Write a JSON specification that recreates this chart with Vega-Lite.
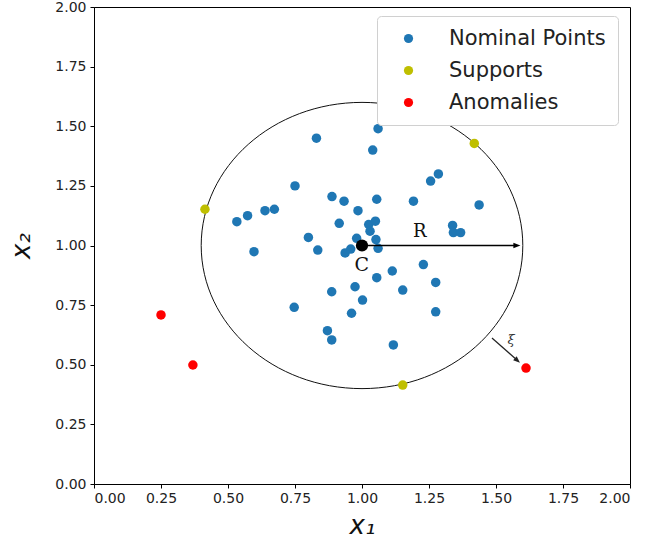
{
  "$schema": "https://vega.github.io/schema/vega-lite/v6.json",
  "width": 536,
  "height": 477,
  "autosize": {"type": "none"},
  "padding": {"left": 94, "top": 7, "right": 16, "bottom": 66},
  "config": {
    "font": "DejaVu Sans",
    "view": {"stroke": "#000", "strokeWidth": 1},
    "axis": {
      "grid": false,
      "domainColor": "#000",
      "tickColor": "#000",
      "tickSize": 4,
      "labelFontSize": 14,
      "labelColor": "#222",
      "titleFontWeight": "normal",
      "titleFontStyle": "italic",
      "titleFontSize": 26,
      "titleColor": "#111"
    },
    "legend": {
      "labelFontSize": 21,
      "labelColor": "#222",
      "symbolSize": 85,
      "strokeColor": "#d0d0d0",
      "fillColor": "#fff",
      "cornerRadius": 4,
      "padding": 12,
      "rowPadding": 10,
      "symbolOffset": 9,
      "labelOffset": 30,
      "symbolStrokeWidth": 0
    }
  },
  "datasets": {
    "pts": [
      {"x1": 0.83, "x2": 1.45, "type": "Nominal Points"},
      {"x1": 1.06, "x2": 1.49, "type": "Nominal Points"},
      {"x1": 1.04, "x2": 1.40, "type": "Nominal Points"},
      {"x1": 0.75, "x2": 1.25, "type": "Nominal Points"},
      {"x1": 1.285, "x2": 1.30, "type": "Nominal Points"},
      {"x1": 1.256, "x2": 1.27, "type": "Nominal Points"},
      {"x1": 1.437, "x2": 1.17, "type": "Nominal Points"},
      {"x1": 0.888, "x2": 1.205, "type": "Nominal Points"},
      {"x1": 0.933, "x2": 1.186, "type": "Nominal Points"},
      {"x1": 1.055, "x2": 1.194, "type": "Nominal Points"},
      {"x1": 1.192, "x2": 1.186, "type": "Nominal Points"},
      {"x1": 0.985, "x2": 1.146, "type": "Nominal Points"},
      {"x1": 0.573, "x2": 1.125, "type": "Nominal Points"},
      {"x1": 0.533, "x2": 1.10, "type": "Nominal Points"},
      {"x1": 0.638, "x2": 1.146, "type": "Nominal Points"},
      {"x1": 0.673, "x2": 1.152, "type": "Nominal Points"},
      {"x1": 0.915, "x2": 1.093, "type": "Nominal Points"},
      {"x1": 1.025, "x2": 1.088, "type": "Nominal Points"},
      {"x1": 1.05, "x2": 1.102, "type": "Nominal Points"},
      {"x1": 1.03, "x2": 1.06, "type": "Nominal Points"},
      {"x1": 1.338, "x2": 1.084, "type": "Nominal Points"},
      {"x1": 1.341, "x2": 1.054, "type": "Nominal Points"},
      {"x1": 1.368, "x2": 1.054, "type": "Nominal Points"},
      {"x1": 0.80, "x2": 1.034, "type": "Nominal Points"},
      {"x1": 0.98, "x2": 1.03, "type": "Nominal Points"},
      {"x1": 1.052, "x2": 1.025, "type": "Nominal Points"},
      {"x1": 0.835, "x2": 0.981, "type": "Nominal Points"},
      {"x1": 0.597, "x2": 0.974, "type": "Nominal Points"},
      {"x1": 0.937, "x2": 0.969, "type": "Nominal Points"},
      {"x1": 0.958, "x2": 0.985, "type": "Nominal Points"},
      {"x1": 1.06, "x2": 0.988, "type": "Nominal Points"},
      {"x1": 1.229, "x2": 0.92, "type": "Nominal Points"},
      {"x1": 1.113, "x2": 0.893, "type": "Nominal Points"},
      {"x1": 1.055, "x2": 0.865, "type": "Nominal Points"},
      {"x1": 1.275, "x2": 0.845, "type": "Nominal Points"},
      {"x1": 0.974, "x2": 0.827, "type": "Nominal Points"},
      {"x1": 0.887, "x2": 0.806, "type": "Nominal Points"},
      {"x1": 1.152, "x2": 0.813, "type": "Nominal Points"},
      {"x1": 1.002, "x2": 0.771, "type": "Nominal Points"},
      {"x1": 0.747, "x2": 0.741, "type": "Nominal Points"},
      {"x1": 0.961, "x2": 0.716, "type": "Nominal Points"},
      {"x1": 1.275, "x2": 0.722, "type": "Nominal Points"},
      {"x1": 0.871, "x2": 0.643, "type": "Nominal Points"},
      {"x1": 0.887, "x2": 0.604, "type": "Nominal Points"},
      {"x1": 1.117, "x2": 0.583, "type": "Nominal Points"},
      {"x1": 0.414, "x2": 1.152, "type": "Supports"},
      {"x1": 1.419, "x2": 1.428, "type": "Supports"},
      {"x1": 1.152, "x2": 0.415, "type": "Supports"},
      {"x1": 0.25, "x2": 0.709, "type": "Anomalies"},
      {"x1": 0.369, "x2": 0.499, "type": "Anomalies"},
      {"x1": 1.612, "x2": 0.486, "type": "Anomalies"}
    ],
    "center": [{"x1": 1.0, "x2": 1.0, "r": 0.6}],
    "rArrow": [{"x1": 1.0, "xe": 1.575, "x2": 1.0}],
    "rHead": [{"x1": 1.578, "x2": 1.0}],
    "xiArrow": [{"xa": 1.485, "ya": 0.612, "xb": 1.575, "yb": 0.523}],
    "xiHead": [{"x1": 1.58, "x2": 0.518}],
    "labels": [
      {"x1": 1.216, "x2": 1.058, "t": "R", "fs": 18},
      {"x1": 0.999, "x2": 0.918, "t": "C", "fs": 19}
    ],
    "xiLabel": [{"x1": 1.556, "x2": 0.604, "t": "ξ"}]
  },
  "layer": [
    {
      "data": {"name": "center"},
      "mark": {
        "type": "point",
        "shape": "M-1,0A1,0.89 0 1,0 1,0A1,0.89 0 1,0 -1,0Z",
        "size": 103426,
        "filled": false,
        "stroke": "#111",
        "strokeWidth": 1,
        "opacity": 1
      },
      "encoding": {
        "x": {"field": "x1", "type": "quantitative", "scale": {"domain": [0, 2], "nice": false, "zero": false},
          "axis": {"values": [0, 0.25, 0.5, 0.75, 1, 1.25, 1.5, 1.75, 2], "format": ".2f", "title": "x₁", "labelPadding": 3, "titlePadding": 7}},
        "y": {"field": "x2", "type": "quantitative", "scale": {"domain": [0, 2], "nice": false, "zero": false},
          "axis": {"values": [0, 0.25, 0.5, 0.75, 1, 1.25, 1.5, 1.75, 2], "format": ".2f", "title": "x₂", "labelPadding": 4, "titlePadding": 20}}
      }
    },
    {
      "data": {"name": "pts"},
      "mark": {"type": "circle", "size": 90, "opacity": 1},
      "encoding": {
        "x": {"field": "x1", "type": "quantitative"},
        "y": {"field": "x2", "type": "quantitative"},
        "color": {
          "field": "type", "type": "nominal",
          "scale": {"domain": ["Nominal Points", "Supports", "Anomalies"], "range": ["#1f77b4", "#bfbf00", "#ff0000"]},
          "legend": {"title": null, "orient": "none", "legendX": 283, "legendY": 9}
        }
      }
    },
    {
      "data": {"name": "rArrow"},
      "mark": {"type": "rule", "color": "#000", "strokeWidth": 1.3},
      "encoding": {
        "x": {"field": "x1", "type": "quantitative"},
        "x2": {"field": "xe"},
        "y": {"field": "x2", "type": "quantitative"}
      }
    },
    {
      "data": {"name": "rHead"},
      "mark": {"type": "point", "shape": "M-1,-0.8L1,0L-1,0.8Z", "size": 50, "filled": true, "color": "#000", "opacity": 1},
      "encoding": {
        "x": {"field": "x1", "type": "quantitative"},
        "y": {"field": "x2", "type": "quantitative"}
      }
    },
    {
      "data": {"name": "xiArrow"},
      "mark": {"type": "rule", "color": "#222", "strokeWidth": 1.2},
      "encoding": {
        "x": {"field": "xa", "type": "quantitative"},
        "y": {"field": "ya", "type": "quantitative"},
        "x2": {"field": "xb"},
        "y2": {"field": "yb"}
      }
    },
    {
      "data": {"name": "xiHead"},
      "mark": {"type": "point", "shape": "M-1,-0.8L1,0L-1,0.8Z", "size": 45, "filled": true, "color": "#222", "angle": 41.5, "opacity": 1},
      "encoding": {
        "x": {"field": "x1", "type": "quantitative"},
        "y": {"field": "x2", "type": "quantitative"}
      }
    },
    {
      "data": {"name": "center"},
      "mark": {"type": "circle", "size": 150, "color": "#000", "opacity": 1},
      "encoding": {
        "x": {"field": "x1", "type": "quantitative"},
        "y": {"field": "x2", "type": "quantitative"}
      }
    },
    {
      "data": {"name": "labels"},
      "mark": {"type": "text", "font": "DejaVu Serif", "color": "#111", "align": "center", "baseline": "middle"},
      "encoding": {
        "x": {"field": "x1", "type": "quantitative"},
        "y": {"field": "x2", "type": "quantitative"},
        "text": {"field": "t"},
        "size": {"field": "fs", "type": "quantitative", "scale": null}
      }
    },
    {
      "data": {"name": "xiLabel"},
      "mark": {"type": "text", "font": "DejaVu Serif", "fontStyle": "italic", "fontSize": 13, "color": "#333", "align": "center", "baseline": "middle"},
      "encoding": {
        "x": {"field": "x1", "type": "quantitative"},
        "y": {"field": "x2", "type": "quantitative"},
        "text": {"field": "t"}
      }
    }
  ]
}
